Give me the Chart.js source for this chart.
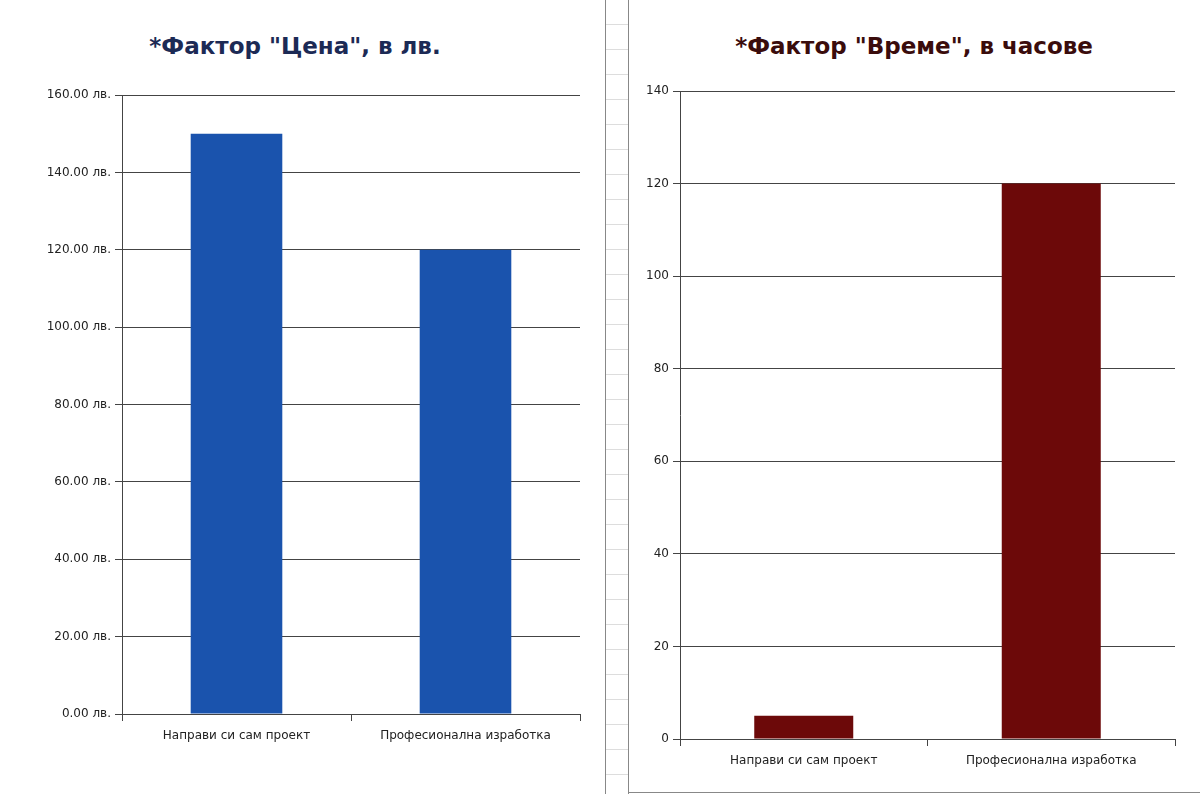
<!DOCTYPE html>
<html>
<head>
<meta charset="utf-8">
<script src="https://cdn.jsdelivr.net/npm/chart.js@4"></script>
<style>
  body { margin: 0; width: 1200px; height: 794px; background: #fff; position: relative; overflow: hidden; font-family: "DejaVu Sans", sans-serif; }
  .title { position: absolute; font-weight: bold; font-size: 23px; text-align: center; }
  #strip { position: absolute; left: 605px; top: 0; width: 22px; height: 794px; border-left: 1px solid #888; border-right: 1px solid #888;
    background: repeating-linear-gradient(to bottom, #fff 0, #fff 24px, #ddd 24px, #ddd 25px); }
  #rightPanel { position: absolute; left: 628px; top: 0; width: 572px; height: 792px; border-bottom: 1px solid #888; }
  canvas { position: absolute; top: 0; }
</style>
</head>
<body>
<div id="strip"></div>
<div id="rightPanel"></div>
<div class="title" style="left:0;width:590px;top:33px;color:#1c2a55">*Фактор "Цена", в лв.</div>
<div class="title" style="left:628px;width:572px;top:33px;color:#3a0c0c">*Фактор "Време", в часове</div>
<canvas id="priceChart" style="left:0;width:600px;height:794px" width="600" height="794"></canvas>
<canvas id="timeChart" style="left:628px;width:572px;height:794px" width="572" height="794"></canvas>
<script>
const categories = ["Направи си сам проект", "Професионална изработка"];
const priceValues = [150, 120];
const timeValues = [5, 120];

Chart.defaults.font.family = "DejaVu Sans";
Chart.defaults.font.size = 12;
Chart.defaults.color = "#222";

function makeChart(id, values, color, max, fmt, yWidth, xHeight, padTop, padRight) {
  new Chart(document.getElementById(id), {
    type: "bar",
    data: {
      labels: categories,
      datasets: [{ data: values, backgroundColor: color, barPercentage: 0.4, categoryPercentage: 1 }]
    },
    options: {
      responsive: false,
      animation: false,
      layout: { padding: { top: padTop, right: padRight, left: 0, bottom: 0 } },
      plugins: { legend: { display: false }, tooltip: { enabled: false } },
      scales: {
        x: {
          grid: { display: true, drawOnChartArea: false, offset: true, tickLength: 7, color: "#444" },
          border: { color: "#444" },
          ticks: { padding: 8, maxRotation: 0 },
          afterFit: (s) => { s.height = xHeight; }
        },
        y: {
          min: 0, max: max,
          grid: { color: "#444", tickLength: 7 },
          border: { color: "#444" },
          ticks: { stepSize: 20, padding: 4, callback: fmt },
          afterFit: (s) => { s.width = yWidth; }
        }
      }
    }
  });
}

makeChart("priceChart", priceValues, "#1a53ad", 160, (v) => v.toFixed(2) + " лв.", 122, 80, 95, 20);
makeChart("timeChart", timeValues, "#6c0909", 140, (v) => v, 52, 55, 91, 25);
</script>
</body>
</html>
